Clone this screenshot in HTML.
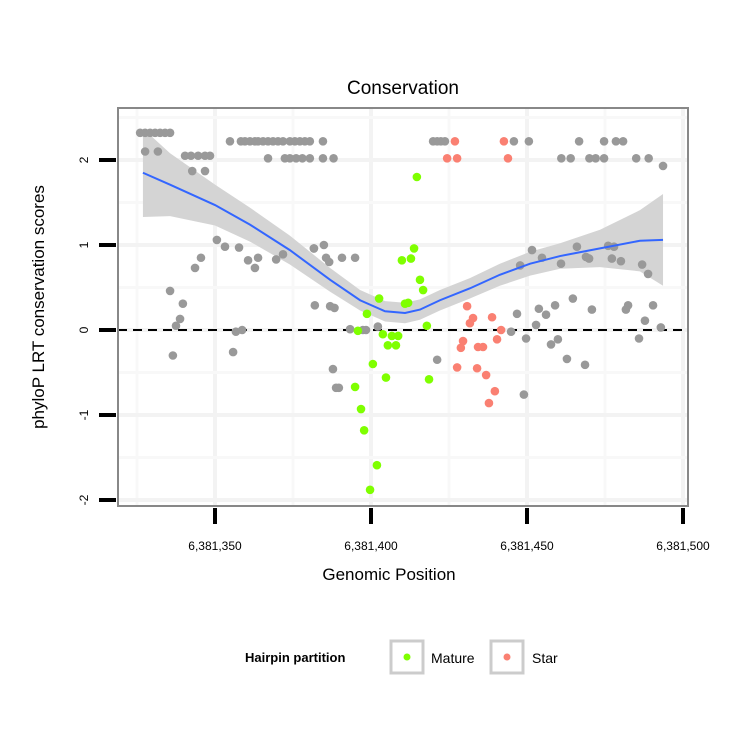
<!DOCTYPE html>
<html><head><meta charset="utf-8"><style>
body{margin:0;background:#fff;}
svg{display:block;font-family:"Liberation Sans",sans-serif;}
</style></head><body>
<svg id="c" width="750" height="750" viewBox="0 0 750 750">
<rect width="750" height="750" fill="#fff"/>
<text x="403" y="94" font-size="19" text-anchor="middle">Conservation</text>
<g id="grid"></g>
<g id="band"></g>
<line x1="118" x2="688" y1="330" y2="330" stroke="#000" stroke-width="2" stroke-dasharray="9,6"/>
<g id="pts"></g>
<g id="smooth"></g>
<rect x="118" y="108" width="570" height="398" fill="none" stroke="#888" stroke-width="2"/>
<g id="axes"></g>
<text x="389" y="580" font-size="17" text-anchor="middle">Genomic Position</text>
<text transform="translate(44,307) rotate(-90)" font-size="17" text-anchor="middle">phyloP LRT conservation scores</text>
<g>
<text x="245" y="662" font-size="13" font-weight="bold">Hairpin partition</text>
<g>
<rect x="391" y="641" width="32" height="32" fill="#fff" stroke="#ccc" stroke-width="3"/>
<circle cx="407" cy="657" r="3.5" fill="#7fff00"/>
<text x="431" y="663" font-size="14">Mature</text></g>
<g>
<rect x="491" y="641" width="32" height="32" fill="#fff" stroke="#ccc" stroke-width="3"/>
<circle cx="507" cy="657" r="3.5" fill="#fa8072"/>
<text x="532" y="663" font-size="14">Star</text></g>
</g>
</svg>
<script>
const otherX=[-24,-22.4,-20.8,-19.2,-17.6,-16,-14.4,
4.8,8.3,9.6,11.2,12.8,13.8,15.4,17,18.6,20.2,21.8,24,25.6,27.2,28.8,30.4,34.6,69.9,71.2,72.4,73.7,95.8,100.6,116.7,124.7,128.5,130.8,
-22.4,-18.3,-9.6,-7.7,-5.4,-3.2,-1.6,
17,22.4,24,26,28,30.4,34.6,38,111,114,120,122,124.7,135,139,
-7.3,-3.2,143.6,
0.6,3.2,7.7,-4.5,-6.4,10.6,13.8,12.8,19.6,21.8,31.7,-14.4,-10.3,-11.2,-12.5,6.7,8.7,5.8,-13.5,32,31.7,34.9,44.9,40.7,36.9,38.3,43.3,47.4,48.4,52.2,71.2,37.8,38.8,39.7,35.6,36.6,
97.8,101.6,104.8,110.9,116,118.9,119.9,126,127.2,127.9,130.1,136.9,138.8,140.4,132.4,96.8,103.8,106.1,109,114.7,120.8,131.7,137.8,142.9,94.9,102.9,109.9,135.9,99.7,107.7,112.8,118.6,99,106.7,140.1];
const otherY=[2.32,2.32,2.32,2.32,2.32,2.32,2.32,
2.22,2.22,2.22,2.22,2.22,2.22,2.22,2.22,2.22,2.22,2.22,2.22,2.22,2.22,2.22,2.22,2.22,2.22,2.22,2.22,2.22,2.22,2.22,2.22,2.22,2.22,2.22,
2.1,2.1,2.05,2.05,2.05,2.05,2.05,
2.02,2.02,2.02,2.02,2.02,2.02,2.02,2.02,2.02,2.02,2.02,2.02,2.02,2.02,2.02,
1.87,1.87,1.93,
1.06,0.98,0.97,0.85,0.73,0.82,0.85,0.73,0.83,0.89,0.96,0.46,0.31,0.13,0.05,-0.02,0,-0.26,-0.3,0.29,0.96,1.0,0.85,0.85,0.28,0.26,0.01,0,0,0.04,-0.35,-0.46,-0.68,-0.68,
0.85,0.8,0.76,0.94,0.85,0.78,0.98,0.86,0.84,0.99,0.84,0.98,0.81,0.77,0.66,0.29,0.29,0.19,0.25,0.18,0.29,0.37,0.24,0.24,0.11,0.03,-0.02,0.06,-0.11,-0.1,-0.1,-0.17,-0.34,-0.41,-0.76];
const matureX=[64.7,63.8,59.9,62.8,65.7,66.7,52.6,48.7,60.9,61.9,67.9,45.8,53.8,56.7,58.7,55.4,58,50.6,54.8,68.6,44.9,46.8,47.8,51.9,49.7];
const matureY=[1.8,0.96,0.82,0.84,0.59,0.47,0.37,0.19,0.31,0.32,0.05,-0.01,-0.05,-0.07,-0.07,-0.18,-0.18,-0.4,-0.56,-0.58,-0.67,-0.93,-1.18,-1.59,-1.88];
const starX=[76.9,92.6,74.4,77.6,93.9,80.8,82.7,81.7,88.8,91.7,79.5,78.8,84.3,85.9,90.4,77.6,84,86.9,89.7,87.8];
const starY=[2.22,2.22,2.02,2.02,2.02,0.28,0.14,0.08,0.15,0,-0.13,-0.21,-0.2,-0.2,-0.11,-0.44,-0.45,-0.53,-0.72,-0.86];
const smX=[-23.1,-14.4,0,11.2,24,36.9,46.5,54.5,60.9,65.7,72.1,81.7,91.3,101,110.6,123.4,136.2,143.6];
const smY=[1.85,1.71,1.47,1.24,0.94,0.59,0.35,0.22,0.2,0.24,0.35,0.49,0.65,0.78,0.87,0.96,1.05,1.06];
const smSE=[0.52,0.37,0.24,0.2,0.17,0.14,0.12,0.12,0.12,0.12,0.12,0.12,0.13,0.14,0.15,0.22,0.36,0.54];
const xTicks=[6381350,6381400,6381450,6381500];
const xTickLabels=["6,381,350","6,381,400","6,381,450","6,381,500"];
const yTicks=[-2,-1,0,1,2];
const yTickLabels=["-2","-1","0","1","2"];
const X0=6381350;
const sx=v=>215+(v-X0)*3.12;
const sy=v=>330-v*85;
const NS='http://www.w3.org/2000/svg';
function mk(t,a,p){const e=document.createElementNS(NS,t);for(const k in a)e.setAttribute(k,a[k]);p.appendChild(e);return e;}
const grid=document.getElementById('grid');
for(let i=0;i<xTicks.length;i++){
 const l=mk('line',{x1:sx(xTicks[i]),x2:sx(xTicks[i]),y1:108,y2:506,stroke:'#f3f3f3','stroke-width':4},grid);
 
 
 const m=mk('line',{x1:sx(xTicks[i]-25),x2:sx(xTicks[i]-25),y1:108,y2:506,stroke:'#f8f8f8','stroke-width':3},grid);
 
 
}
for(let v=-2;v<=2.5;v+=0.5){
 const l=mk('line',{x1:118,x2:688,y1:sy(v),y2:sy(v),stroke:v%1===0?'#f3f3f3':'#f8f8f8','stroke-width':v%1===0?4:3},grid);
 
 
}
const band=document.getElementById('band');
let d='';
for(let i=0;i<smX.length;i++)d+=(i?'L':'M')+sx(X0+smX[i])+','+sy(smY[i]+smSE[i]);
for(let i=smX.length-1;i>=0;i--)d+='L'+sx(X0+smX[i])+','+sy(smY[i]-smSE[i]);
const bp=mk('path',{d:d+'Z',fill:'#d4d4d4'},band);


const pts=document.getElementById('pts');
function drawGroup(xs,ys,color,name){
 const n=Math.min(xs.length,ys.length);
 for(let i=0;i<n;i++){
  const c=mk('circle',{cx:sx(X0+xs[i]),cy:sy(ys[i]),r:4.3,fill:color},pts);
  
  
 }
}
drawGroup(otherX,otherY,'#999999','point-other');
drawGroup(matureX,matureY,'#7fff00','point-mature');
drawGroup(starX,starY,'#fa8072','point-star');
const sm=document.getElementById('smooth');
let p='';
for(let i=0;i<smX.length;i++)p+=(i?'L':'M')+sx(X0+smX[i])+','+sy(smY[i]);
const sl=mk('path',{d:p,fill:'none',stroke:'#3366ff','stroke-width':2},sm);


const ax=document.getElementById('axes');
for(let i=0;i<xTicks.length;i++){
 const t=mk('line',{x1:sx(xTicks[i]),x2:sx(xTicks[i]),y1:508,y2:524,stroke:'#000','stroke-width':4},ax);
 
 
 const lb=mk('text',{x:sx(xTicks[i]),y:550,'font-size':12,'text-anchor':'middle'},ax);
 lb.textContent=xTickLabels[i];
 
 
}
for(let i=0;i<yTicks.length;i++){
 const y=sy(yTicks[i]);
 const t=mk('line',{x1:99,x2:116,y1:y,y2:y,stroke:'#000','stroke-width':4},ax);
 
 
 const lb=mk('text',{transform:`translate(88,${y}) rotate(-90)`,'font-size':12,'text-anchor':'middle'},ax);
 lb.textContent=yTickLabels[i];
 
 
}
</script>
</body></html>
